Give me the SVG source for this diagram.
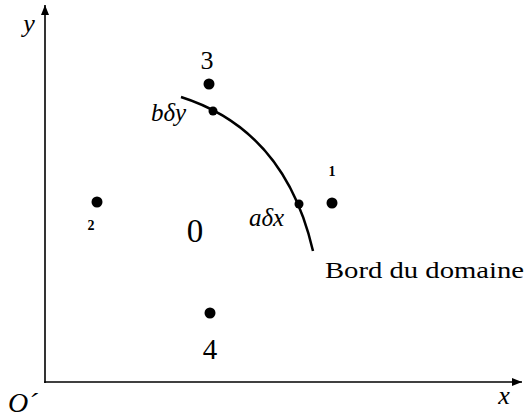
<svg xmlns="http://www.w3.org/2000/svg" width="525" height="417" viewBox="0 0 525 417">
<style>
text{font-family:'Liberation Serif','Times New Roman',serif;fill:#000}
.i{font-style:italic}
.b{font-weight:bold}
.ax{stroke:#000;stroke-width:1.6;fill:none}
.cv{stroke:#000;stroke-width:2.5;fill:none}
</style>
<defs>
<marker id="ah" viewBox="0 0 10 8" refX="10" refY="4" markerWidth="10" markerHeight="8" markerUnits="userSpaceOnUse" orient="auto">
<path d="M0,0 L10,4 L0,8 z" fill="#000"/>
</marker>
</defs>
<g id="connectors">
<path class="ax" d="M45,383 L45,5" marker-end="url(#ah)"/>
<path class="ax" d="M44.2,382 L522,382" marker-end="url(#ah)"/>
<path id="boundary" class="cv" d="M181,97 Q285,130 313,251"/>
</g>
<g id="axis-labels">
<text class="i" x="29" y="32" font-size="26" text-anchor="middle">y</text>
<text class="i" x="504" y="404" font-size="26" text-anchor="middle">x</text>
<text class="i" x="8" y="412" font-size="28">O´</text>
</g>
<g id="node3"><circle cx="209" cy="84" r="5.5"/><text x="207" y="69" font-size="26" text-anchor="middle">3</text></g>
<g id="node-bdy"><circle cx="213" cy="111" r="4.5"/><text class="i" x="151" y="121" font-size="25">bδy</text></g>
<g id="node-adx"><circle cx="299" cy="204" r="4.5"/><text class="i" x="249" y="226" font-size="25">aδx</text></g>
<g id="node1"><circle cx="332" cy="203" r="5.5"/><text class="b" x="332" y="176" font-size="14" text-anchor="middle">1</text></g>
<g id="node2"><circle cx="97" cy="202" r="5.5"/><text class="b" x="91" y="230" font-size="14" text-anchor="middle">2</text></g>
<g id="node0"><text x="195" y="242" font-size="33" text-anchor="middle">0</text></g>
<g id="node4"><circle cx="210" cy="313" r="5.5"/><text x="210" y="359" font-size="29" text-anchor="middle">4</text></g>
<g id="label-bord"><text x="325" y="278" font-size="24" textLength="199" lengthAdjust="spacingAndGlyphs">Bord du domaine</text></g>
</svg>
